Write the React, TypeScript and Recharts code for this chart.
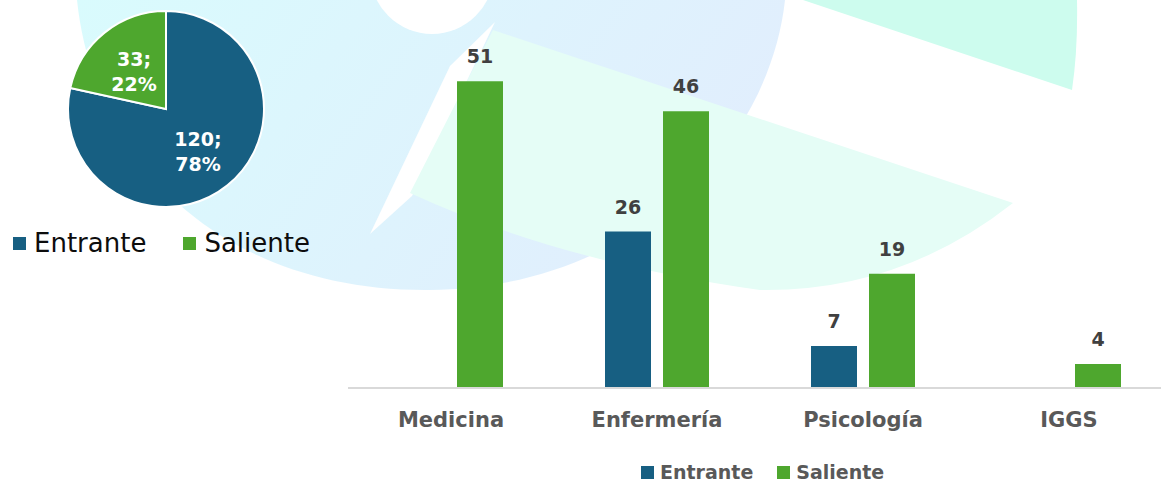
import React from "react";
import { BarChart, Bar, XAxis, YAxis, LabelList, Legend, PieChart, Pie, Cell } from "recharts";

// data
const categories = ["Medicina", "Enfermería", "Psicología", "IGGS"];
const entrante = [0, 26, 7, 0];
const saliente = [51, 46, 19, 4];

const pieNames = ["Entrante", "Saliente"];
const pieValues = [120, 33];

const BLUE = "#175F82";
const GREEN = "#4EA72E";
const FONT = "'DejaVu Sans', sans-serif";

const barData = categories.map((c, i) => ({ name: c, Entrante: entrante[i], Saliente: saliente[i] }));
const pieData = pieNames.map((n, i) => ({ name: n, value: pieValues[i] }));
const pieColors = [BLUE, GREEN];

const RAD = Math.PI / 180;

const pieLabel = (props: any) => {
  const { cx, cy, midAngle, outerRadius, percent, value } = props;
  const r = outerRadius * 0.52;
  const x = cx + r * Math.cos(-midAngle * RAD);
  const y = cy + r * Math.sin(-midAngle * RAD);
  return (
    <text x={x} y={y} textAnchor="middle" fill="#ffffff" fontFamily={FONT} fontWeight="bold" fontSize={19}>
      <tspan x={x} y={y - 3}>{value};</tspan>
      <tspan x={x} y={y + 22}>{Math.round(percent * 100)}%</tspan>
    </text>
  );
};

const PieLegend = (props: any) => {
  const items = props.payload || [];
  return (
    <div style={{ display: "flex", alignItems: "center", fontFamily: FONT, fontSize: 26, color: "#0d0d0d" }}>
      {items.map((it: any, i: number) => (
        <div key={i} style={{ display: "flex", alignItems: "center", marginRight: i === 0 ? 37 : 0 }}>
          <span style={{ width: 13, height: 13, background: it.color, display: "inline-block", marginRight: 8 }} />
          <span>{it.value}</span>
        </div>
      ))}
    </div>
  );
};

const BarLegend = (props: any) => {
  const items = props.payload || [];
  return (
    <div style={{ display: "flex", alignItems: "center", fontFamily: FONT, fontSize: 19, lineHeight: "18px", fontWeight: "bold", color: "#595959" }}>
      {items.map((it: any, i: number) => (
        <div key={i} style={{ display: "flex", alignItems: "center", marginRight: i === 0 ? 24 : 0 }}>
          <span style={{ width: 13, height: 13, background: it.color, display: "inline-block", marginRight: 6 }} />
          <span>{it.value}</span>
        </div>
      ))}
    </div>
  );
};

const hideZero = (v: any) => (v ? v : "");

// faint logo watermark behind the charts
const Backdrop = () => (
  <svg width={1161} height={482} style={{ position: "absolute", left: 0, top: 0 }}>
    <defs>
      <linearGradient id="bg1" x1="0" y1="0" x2="1" y2="0.3">
        <stop offset="0" stopColor="#d9fbfd" />
        <stop offset="1" stopColor="#e1eefd" />
      </linearGradient>
    </defs>
    <path d="M77,0 C95,170 230,292 430,290 C640,288 770,140 785,0 Z" fill="url(#bg1)" />
    <circle cx={432} cy={-28} r={62} fill="#ffffff" />
    <path d="M450,66 L495,22 L412,196 L370,234 Z" fill="#ffffff" />
    <path d="M493,30 L1013,203 Q900,292 760,290 Q560,262 410,193 Z" fill="#e5fdf6" />
    <path d="M803,0 L1077,0 Q1078,50 1072,90 Z" fill="#cdfcee" />
  </svg>
);

export default function App() {
  return (
    <div style={{ position: "absolute", left: 0, top: 0, width: 1161, height: 482, overflow: "hidden", background: "#ffffff" }}>
      <Backdrop />
      <div style={{ position: "absolute", left: 0, top: 0 }}>
        <PieChart width={340} height={280}>
          <Pie
            data={pieData}
            dataKey="value"
            nameKey="name"
            cx={161}
            cy={104}
            outerRadius={98}
            startAngle={90}
            endAngle={-270}
            stroke="#ffffff"
            strokeWidth={2}
            label={pieLabel}
            labelLine={false}
            isAnimationActive={false}
          >
            {pieData.map((d, i) => (
              <Cell key={d.name} fill={pieColors[i]} />
            ))}
          </Pie>
          <Legend
            verticalAlign="middle"
            align="center"
            content={<PieLegend />}
            wrapperStyle={{ left: 13, top: 228, width: "auto" }}
          />
        </PieChart>
      </div>
      <div style={{ position: "absolute", left: 300, top: 0 }}>
        <BarChart
          width={872}
          height={482}
          data={barData}
          margin={{ top: 27, right: 0, left: 48, bottom: 0 }}
          barSize={46}
          barGap={12}
        >
          <XAxis
            dataKey="name"
            height={94}
            axisLine={{ stroke: "#d9d9d9", strokeWidth: 2 }}
            tickLine={false}
            tickSize={0}
            tickMargin={24}
            tick={{ fill: "#595959", fontSize: 21, fontWeight: "bold", fontFamily: FONT }}
            interval={0}
          />
          <YAxis hide domain={[0, 60]} />
          <Bar dataKey="Entrante" name="Entrante" fill={BLUE} isAnimationActive={false}>
            <LabelList dataKey="Entrante" position="top" offset={18} formatter={hideZero}
              style={{ fill: "#404040", fontSize: 19, fontWeight: "bold", fontFamily: FONT }} />
          </Bar>
          <Bar dataKey="Saliente" name="Saliente" fill={GREEN} isAnimationActive={false}>
            <LabelList dataKey="Saliente" position="top" offset={18} formatter={hideZero}
              style={{ fill: "#404040", fontSize: 19, fontWeight: "bold", fontFamily: FONT }} />
          </Bar>
          <Legend
            verticalAlign="middle"
            align="center"
            content={<BarLegend />}
            wrapperStyle={{ left: 341, top: 463, width: "auto" }}
          />
        </BarChart>
      </div>
    </div>
  );
}
